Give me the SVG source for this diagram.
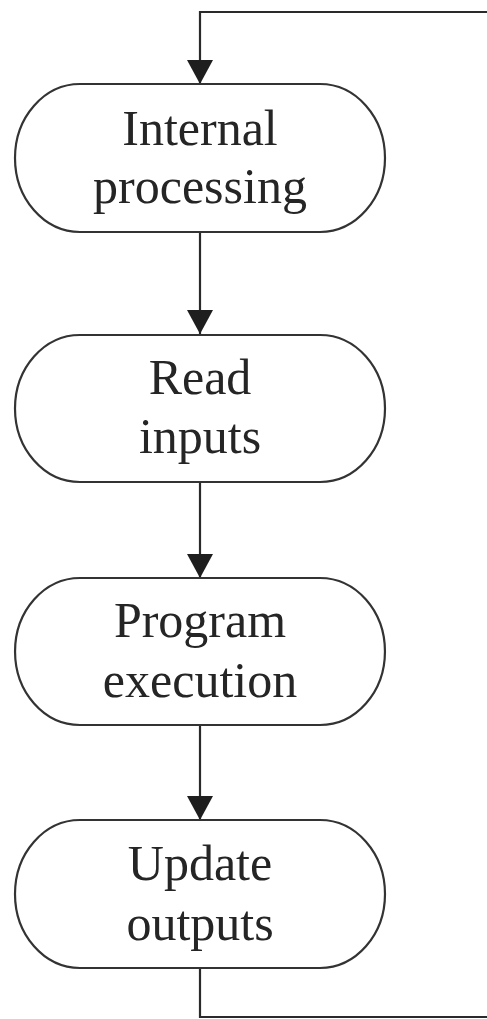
<svg xmlns="http://www.w3.org/2000/svg" width="487" height="1019" viewBox="0 0 487 1019">
  <style>
    .term { fill: #ffffff; stroke: #333333; stroke-width: 2.2; }
    .label { font-family: "Liberation Serif", "Times New Roman", serif; font-size: 50px; fill: #252525; text-anchor: middle; }
    .flow { fill: none; stroke: #2a2a2a; stroke-width: 2.2; }
  </style>
  <defs>
    <marker id="arrow" markerUnits="userSpaceOnUse" markerWidth="26" markerHeight="28" refX="24" refY="13" orient="auto">
      <path d="M0,0 L24,13 L0,26 Z" fill="#1e1e1e"/>
    </marker>
  </defs>
  <rect width="487" height="1019" fill="#ffffff"/>

  <!-- connectors -->
  <g id="connectors">
    <path class="flow" d="M487,12 H200 V84" marker-end="url(#arrow)"/>
    <path class="flow" d="M200,232 V334" marker-end="url(#arrow)"/>
    <path class="flow" d="M200,482 V578" marker-end="url(#arrow)"/>
    <path class="flow" d="M200,725 V820" marker-end="url(#arrow)"/>
    <path class="flow" d="M200,968 V1017 H487"/>
  </g>

  <!-- terminator nodes -->
  <g id="internal-processing">
    <path class="term" d="M80,84 H320 A65,74 0 0 1 320,232 H80 A65,74 0 0 1 80,84 Z"/>
    <text class="label" x="200" y="145">Internal</text>
    <text class="label" x="200" y="203">processing</text>
  </g>

  <g id="read-inputs">
    <path class="term" d="M80,335 H320 A65,73.5 0 0 1 320,482 H80 A65,73.5 0 0 1 80,335 Z"/>
    <text class="label" x="200" y="394">Read</text>
    <text class="label" x="200" y="453">inputs</text>
  </g>

  <g id="program-execution">
    <path class="term" d="M80,578 H320 A65,73.5 0 0 1 320,725 H80 A65,73.5 0 0 1 80,578 Z"/>
    <text class="label" x="200" y="637">Program</text>
    <text class="label" x="200" y="697">execution</text>
  </g>

  <g id="update-outputs">
    <path class="term" d="M80,820 H320 A65,74 0 0 1 320,968 H80 A65,74 0 0 1 80,820 Z"/>
    <text class="label" x="200" y="880">Update</text>
    <text class="label" x="200" y="940">outputs</text>
  </g>
</svg>
